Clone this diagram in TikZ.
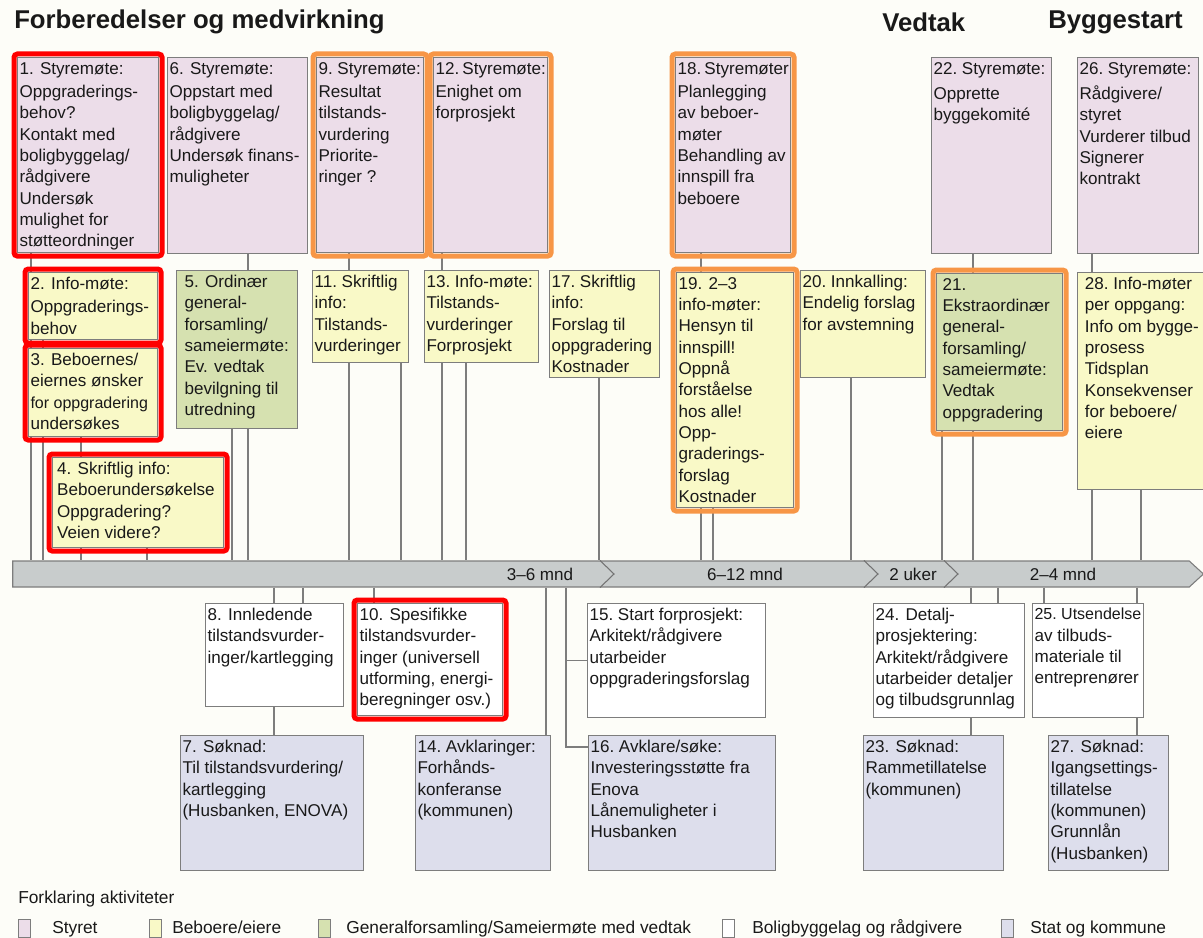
\documentclass[tikz,border=0pt]{standalone}
\usepackage{fontspec}
\setmainfont{Liberation Sans}
\usetikzlibrary{shapes.arrows}

\definecolor{styretc}{RGB}{236,221,233}
\definecolor{beboerc}{RGB}{249,249,199}
\definecolor{gfc}{RGB}{214,225,176}
\definecolor{statc}{RGB}{221,222,236}
\definecolor{linec}{RGB}{125,125,125}
\definecolor{barc}{RGB}{200,204,204}
\definecolor{redc}{RGB}{255,0,0}
\definecolor{orangec}{RGB}{247,150,70}
\definecolor{pagec}{RGB}{253,253,248}
\definecolor{txtc}{RGB}{25,25,25}

% one picture pixel
\newdimen\pxu \pxu=0.75pt
% box text: width, height (pixels), lines
\newcommand{\btext}[3]{\parbox[t][\dimexpr#2\pxu-7pt\relax][t]{\dimexpr#1\pxu-3pt\relax}{\raggedright\hyphenpenalty=10000 #3}}

\pgfdeclarelayer{bg}
\pgfdeclarelayer{lines}
\pgfsetlayers{bg,lines,main}

\begin{document}
\begin{tikzpicture}[x=0.75pt, y=-0.75pt,
	akt/.style={draw=linec, line width=0.8pt, anchor=north west, inner xsep=1.5pt, inner ysep=3.5pt,
		text=txtc, font=\fontsize{12.8}{16}\selectfont},
	styret/.style={akt, fill=styretc},
	beboer/.style={akt, fill=beboerc},
	gf/.style={akt, fill=gfc},
	bbl/.style={akt, fill=white},
	stat/.style={akt, fill=statc},
	redframe/.style={draw=redc, line width=3.75pt, rounded corners=2.5pt},
	orangeframe/.style={draw=orangec, line width=3.75pt, rounded corners=2.5pt},
	conn/.style={draw=linec, line width=0.95pt},
	bar/.style={single arrow, single arrow head extend=0pt, single arrow head indent=0pt,
		single arrow tip angle=85, minimum height=893pt, minimum width=19.5pt, inner sep=0pt,
		draw=linec, line width=0.8pt, fill=barc},
	chev/.style={draw=black!55, line width=0.8pt},
	tl/.style={text=txtc, font=\fontsize{12.8}{16}\selectfont, inner sep=0pt},
	head/.style={anchor=west, inner sep=0pt, text=txtc, font=\bfseries\fontsize{19.3}{23}\selectfont},
	legsq/.style={draw=linec, line width=0.6pt, minimum width=9pt, minimum height=13.5pt, inner sep=0pt},
	legtxt/.style={anchor=base west, inner sep=0pt, text=txtc, font=\fontsize{13}{16}\selectfont}]

	\useasboundingbox (0,0) rectangle (1203,938);
	\begin{pgfonlayer}{bg}
		\fill[pagec] (0,0) rectangle (1203,938);
	\end{pgfonlayer}

	\node[head] (h1) at (14,22) {Forberedelser og medvirkning};
	\node[head] (h2) at (882,22) {Vedtak};
	\node[head] (h3) at (1048,22) {Byggestart};

	% styret
	\node[styret] (a1) at (17,57) {\btext{141}{195}{1. Styremøte:\\[1.5pt]Oppgraderings-\\behov?\\Kontakt med\\boligbyggelag/\\rådgivere\\Undersøk\\mulighet for\\støtteordninger}};
	\node[styret] (a6) at (167,57) {\btext{140}{196}{6. Styremøte:\\[1.5pt]Oppstart med\\boligbyggelag/\\rådgivere\\Undersøk~finans-\\muligheter}};
	\node[styret] (a9) at (316,57) {\btext{107}{195}{9.~Styremøte:\\[1.5pt]Resultat\\tilstands-\\vurdering\\Priorite-\\ringer~?}};
	\node[styret] (a12) at (433,57) {\btext{114}{195}{12.~Styremøte:\\[1.5pt]Enighet om\\forprosjekt}};
	\node[styret] (a18) at (675,57) {\btext{115}{195}{18.~Styremøter\\[1.5pt]Planlegging\\av beboer-\\møter\\Behandling~av\\innspill fra\\beboere}};
	\node[styret] (a22) at (931,57) {\btext{120}{196}{22.~Styremøte:\\[3pt]Opprette\\byggekomité}};
	\node[styret] (a26) at (1077,57) {\btext{121}{196}{26.~Styremøte:\\[3pt]Rådgivere/\\styret\\Vurderer~tilbud\\Signerer\\kontrakt}};

	% beboere/eiere og generalforsamling
	\node[beboer] (a2) at (28,272) {\btext{129}{67}{2. Info-møte:\\[1.5pt]Oppgraderings-\\behov}};
	\node[beboer] (a3) at (28,348) {\btext{129}{88}{3. Beboernes/\\eiernes~ønsker\\{\fontsize{12}{16}\selectfont for~oppgradering}\\undersøkes}};
	\node[gf] (a5) at (176,270) {\btext{121}{158}{\leftskip=4.5pt 5. Ordinær\\general-\\forsamling/\\sameiermøte:\\Ev. vedtak\\bevilgning~til\\utredning}};
	\node[beboer] (a11) at (312,270) {\btext{96}{92}{11.~Skriftlig\\info:\\Tilstands-\\vurderinger}};
	\node[beboer] (a13) at (424,270) {\btext{114}{92}{13.~Info-møte:\\Tilstands-\\vurderinger\\Forprosjekt}};
	\node[beboer] (a17) at (549,270) {\btext{110}{107}{17.~Skriftlig\\info:\\Forslag til\\oppgradering\\Kostnader}};
	\node[beboer] (a19) at (676,272) {\btext{117}{235}{19. 2--3\\info-møter:\\Hensyn til\\innspill!\\Oppnå\\forståelse\\hos alle!\\Opp-\\graderings-\\forslag\\Kostnader}};
	\node[beboer] (a20) at (800,270) {\btext{125}{107}{20.~Innkalling:\\Endelig~forslag\\for~avstemning}};
	\node[gf] (a21) at (936,273) {\btext{126}{157}{\leftskip=3pt 21.\\Ekstraordinær\\general-\\forsamling/\\sameiermøte:\\Vedtak\\oppgradering}};
	\node[beboer] (a28) at (1077,272) {\btext{126}{217}{\leftskip=4pt 28.~Info-møter\\per oppgang:\\Info~om~bygge-\\prosess\\Tidsplan\\Konsekvenser\\for beboere/\\eiere}};
	\node[beboer] (a4) at (52,457) {\btext{171}{90}{\leftskip=2pt 4. Skriftlig info:\\Beboerundersøkelse\\Oppgradering?\\Veien videre?}};

	% boligbyggelag og rådgivere
	\node[bbl] (a8) at (205,603) {\btext{138}{103}{8. Innledende\\tilstandsvurder-\\inger/kartlegging}};
	\node[bbl] (a10) at (357,603) {\btext{145}{112}{10. Spesifikke\\tilstandsvurder-\\inger~(universell\\utforming,~energi-\\beregninger~osv.)}};
	\node[bbl] (a15) at (587,603) {\btext{178}{114}{15.~Start~forprosjekt:\\Arkitekt/rådgivere\\utarbeider\\oppgraderingsforslag}};
	\node[bbl] (a24) at (873,603) {\btext{151}{114}{24. Detalj-\\prosjektering:\\Arkitekt/rådgivere\\utarbeider~detaljer\\og~tilbudsgrunnlag}};
	\node[bbl] (a25) at (1032,603) {\btext{111}{114}{{\fontsize{12}{16}\selectfont 25.~Utsendelse}\\av tilbuds-\\materiale~til\\entreprenører}};

	% stat og kommune
	\node[stat] (a7) at (180,735) {\btext{183}{135}{7. Søknad:\\Til~tilstandsvurdering/\\kartlegging\\(Husbanken,~ENOVA)}};
	\node[stat] (a14) at (415,735) {\btext{135}{135}{14.~Avklaringer:\\Forhånds-\\konferanse\\(kommunen)}};
	\node[stat] (a16) at (588,735) {\btext{187}{135}{16.~Avklare/søke:\\Investeringsstøtte~fra\\Enova\\Lånemuligheter~i\\Husbanken}};
	\node[stat] (a23) at (863,735) {\btext{140}{135}{23. Søknad:\\Rammetillatelse\\(kommunen)}};
	\node[stat] (a27) at (1048,735) {\btext{120}{135}{27. Søknad:\\Igangsettings-\\tillatelse\\(kommunen)\\Grunnlån\\(Husbanken)}};

	% markings
	\draw[redframe] ([shift={(-3,-3)}]a1.north west) rectangle ([shift={(3,3)}]a1.south east);
	\draw[redframe] ([shift={(-3,-3)}]a2.north west) rectangle ([shift={(3,3)}]a2.south east);
	\draw[redframe] ([shift={(-3,-3)}]a3.north west) rectangle ([shift={(3,3)}]a3.south east);
	\draw[redframe] ([shift={(-3,-3)}]a4.north west) rectangle ([shift={(3,3)}]a4.south east);
	\draw[redframe] ([shift={(-3,-3)}]a10.north west) rectangle ([shift={(3,3)}]a10.south east);
	\draw[orangeframe] ([shift={(-3,-3)}]a9.north west) rectangle ([shift={(3,3)}]a9.south east);
	\draw[orangeframe] ([shift={(-3,-3)}]a12.north west) rectangle ([shift={(3,3)}]a12.south east);
	\draw[orangeframe] ([shift={(-3,-3)}]a18.north west) rectangle ([shift={(3,3)}]a18.south east);
	\draw[orangeframe] ([shift={(-3,-3)}]a19.north west) rectangle ([shift={(3,3)}]a19.south east);
	\draw[orangeframe] ([shift={(-3,-3)}]a21.north west) rectangle ([shift={(3,3)}]a21.south east);

	% time line
	\node[bar] (bar) at (601,574) {};
	\draw[chev] (600,0 |- bar.north) -- (614,0 |- bar.center) -- (600,0 |- bar.south);
	\draw[chev] (864,0 |- bar.north) -- (878,0 |- bar.center) -- (864,0 |- bar.south);
	\draw[chev] (944,0 |- bar.north) -- (958,0 |- bar.center) -- (944,0 |- bar.south);
	\node[tl] (t1) at (540,574) {3--6 mnd};
	\node[tl] (t2) at (745,574) {6--12 mnd};
	\node[tl] (t3) at (913,574) {2 uker};
	\node[tl] (t4) at (1063,574) {2--4 mnd};

	\begin{pgfonlayer}{lines}
	\draw[conn]
		(31,0 |- a1.south) -- (31,0 |- bar.north)
		(43,0 |- a2.south) -- (43,0 |- bar.north)
		(81,0 |- a3.south) -- (81,0 |- bar.north)
		(147,0 |- a4.south) -- (147,0 |- bar.north)
		(232,0 |- a5.south) -- (232,0 |- bar.north)
		(248,0 |- a6.south) -- (248,0 |- bar.north)
		(349,0 |- a9.south) -- (349,0 |- bar.north)
		(401,0 |- a11.south) -- (401,0 |- bar.north)
		(442,0 |- a12.south) -- (442,0 |- bar.north)
		(466,0 |- a13.south) -- (466,0 |- bar.north)
		(599,0 |- a17.south) -- (599,0 |- bar.north)
		(701,0 |- a18.south) -- (701,0 |- bar.north)
		(713,0 |- a19.south) -- (713,0 |- bar.north)
		(851,0 |- a20.south) -- (851,0 |- bar.north)
		(942,0 |- a21.south) -- (942,0 |- bar.north)
		(973,0 |- a22.south) -- (973,0 |- bar.north)
		(1092,0 |- a26.south) -- (1092,0 |- bar.north)
		(1141,0 |- a28.south) -- (1141,0 |- bar.north)
		(274,0 |- bar.south) -- (274,0 |- a7.north)
		(303,0 |- bar.south) -- (303,0 |- a8.north)
		(374,0 |- bar.south) -- (374,0 |- a10.north)
		(546,0 |- bar.south) -- (546,0 |- a14.north)
		(566,0 |- bar.south) |- ([shift={(0,12)}]a16.north west)
		(566,0 |- a15.west) -- (a15.west)
		(971,0 |- bar.south) -- (971,0 |- a23.north)
		(998,0 |- bar.south) -- (998,0 |- a24.north)
		(1044,0 |- bar.south) -- (1044,0 |- a25.north)
		(1137,0 |- bar.south) -- (1137,0 |- a27.north);
	\end{pgfonlayer}

	% legend
	\node[legtxt] (lg) at (18,903) {Forklaring aktiviteter};
	\node[legsq, fill=styretc] (l1) at (24,928) {};
	\node[legtxt] (lt1) at (52,933) {Styret};
	\node[legsq, fill=beboerc] (l2) at (155,928) {};
	\node[legtxt] (lt2) at (172,933) {Beboere/eiere};
	\node[legsq, fill=gfc] (l3) at (324,928) {};
	\node[legtxt] (lt3) at (346,933) {Generalforsamling/Sameiermøte med vedtak};
	\node[legsq, fill=white] (l4) at (728,928) {};
	\node[legtxt] (lt4) at (752,933) {Boligbyggelag og rådgivere};
	\node[legsq, fill=statc] (l5) at (1007,928) {};
	\node[legtxt] (lt5) at (1030,933) {Stat og kommune};

\end{tikzpicture}
\end{document}
